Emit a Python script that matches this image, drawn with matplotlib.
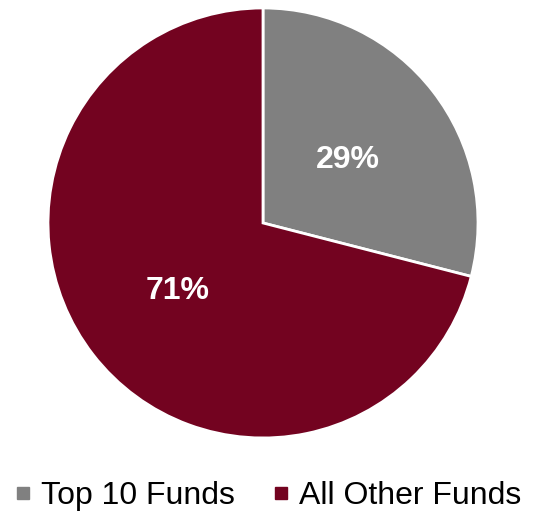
import matplotlib
matplotlib.use("Agg")
import matplotlib.pyplot as plt
from matplotlib.lines import Line2D

labels = ["Top 10 Funds", "All Other Funds"]
values = [29, 71]
colors = ["#808080", "#730320"]

plt.rcParams['font.family'] = ['Liberation Sans', 'DejaVu Sans']

fig = plt.figure(figsize=(5.38, 5.11), dpi=100)
ax = fig.add_axes([0.0892, 0.1429, 0.7993, 0.8415])
wedges, texts, autotexts = ax.pie(
    values, colors=colors, startangle=90, counterclock=False,
    autopct=lambda p: f"{p:.0f}%", pctdistance=0.5,
    wedgeprops=dict(edgecolor="white", linewidth=2),
    textprops=dict(color="white", fontsize=23, fontweight="bold"))
for t in autotexts:
    t.set_y(t.get_position()[1] - 0.012)
ax.set_xlim(-1, 1)
ax.set_ylim(-1, 1)
ax.set_aspect("equal")

handles = [Line2D([], [], linestyle="none", marker="s", markersize=8,
                  markerfacecolor=c, markeredgecolor=c) for c in colors]
fig.legend(handles, labels, loc="center", bbox_to_anchor=(0.5, 0.029),
           ncol=2, frameon=False, fontsize=23, handlelength=0.4,
           handletextpad=0.35, columnspacing=1.25, borderaxespad=0, borderpad=0)

fig.savefig("out.png", dpi=100)
